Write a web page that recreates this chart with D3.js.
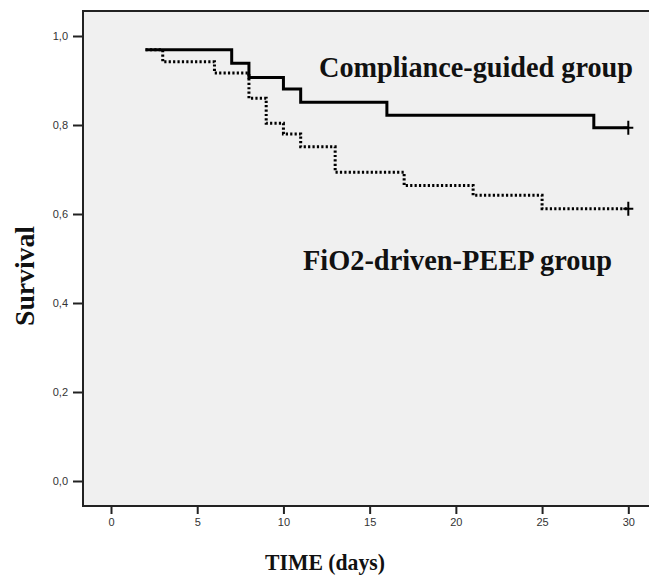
<!DOCTYPE html>
<html>
<head>
<meta charset="utf-8">
<script src="https://cdn.jsdelivr.net/npm/d3@7"></script>
<style>
	body { margin: 0; background: #ffffff; }
	.tick text { font-family: "Liberation Sans", Arial, sans-serif; font-size: 11px; fill: #333333; }
	.lbl { font-family: "Liberation Serif", "Times New Roman", serif; font-weight: bold; fill: #111111; }
</style>
</head>
<body>
<div id="chart"></div>
<script>
/* **************************************************************************
 * Kaplan-Meier survival plot, two ventilation groups.
 * **************************************************************************/

// survival steps (day, survival)
var complianceDays = [2, 7, 8, 10, 11, 16, 28, 30];
var complianceSurv = [0.969, 0.939, 0.907, 0.881, 0.851, 0.822, 0.794, 0.794];

var fioDays = [2, 3, 6, 8, 9, 10, 11, 13, 17, 21, 25, 30];
var fioSurv = [0.969, 0.942, 0.917, 0.860, 0.804, 0.780, 0.751, 0.694, 0.664, 0.642, 0.612, 0.612];

var xTicks = [0, 5, 10, 15, 20, 25, 30];
var yTicks = [0, 0.2, 0.4, 0.6, 0.8, 1.0];

var groupNames = ["Compliance-guided group", "FiO2-driven-PEEP group"];
var xTitle = "TIME (days)";
var yTitle = "Survival";

var width = 649, height = 582;

// plot frame, the right side runs off the picture as in the original
var frame = { left: 83, top: 11, right: 655, bottom: 506 };

var svg = d3.select("#chart").append("svg")
	.attr("width", width)
	.attr("height", height);

var x = d3.scaleLinear().domain([0, 30]).range([111, 628.3]);
var y = d3.scaleLinear().domain([0, 1]).range([481, 36]);

// grey plot area
svg.append("rect")
	.attr("x", frame.left)
	.attr("y", frame.top)
	.attr("width", frame.right - frame.left)
	.attr("height", frame.bottom - frame.top)
	.attr("fill", "#f0f0f0")
	.attr("stroke", "#222222")
	.attr("stroke-width", 2);

// axes
var fmt = function (d) { return d3.format(".1f")(d).replace(".", ","); };

var yAxis = svg.append("g")
	.attr("transform", "translate(" + frame.left + ",0)")
	.call(d3.axisLeft(y).tickValues(yTicks).tickFormat(fmt).tickSize(10).tickPadding(5));

var xAxis = svg.append("g")
	.attr("transform", "translate(0," + frame.bottom + ")")
	.call(d3.axisBottom(x).tickValues(xTicks).tickSize(8).tickPadding(4));

[yAxis, xAxis].forEach(function (g) {
	g.select(".domain").remove();
	g.selectAll(".tick line").attr("stroke", "#222222").attr("stroke-width", 2);
});

/* **************************************************************************
 * drawCurve
 *
 * Draw one step curve with a censor "+" at its last point.
 ****************************************************************************/
function drawCurve(days, surv, dash)
{
	var pts = days.map(function (d, i) { return [d, surv[i]]; });

	var line = d3.line()
		.x(function (p) { return x(p[0]); })
		.y(function (p) { return y(p[1]); })
		.curve(d3.curveStepAfter);

	svg.append("path")
		.datum(pts)
		.attr("d", line)
		.attr("fill", "none")
		.attr("stroke", "#000000")
		.attr("stroke-width", 3)
		.attr("stroke-dasharray", dash);

	// censor mark
	var last = pts[pts.length - 1];
	var cx = x(last[0]), cy = y(last[1]);
	svg.append("path")
		.attr("d", "M" + (cx - 5) + "," + cy + "H" + (cx + 5) +
			"M" + cx + "," + (cy - 7) + "V" + (cy + 7))
		.attr("stroke", "#000000")
		.attr("stroke-width", 2);
}

drawCurve(fioDays, fioSurv, "2.2,2.2");
drawCurve(complianceDays, complianceSurv, null);

// group labels
svg.append("text")
	.attr("class", "lbl")
	.attr("x", 319).attr("y", 77)
	.attr("font-size", 29)
	.attr("textLength", 314)
	.attr("lengthAdjust", "spacingAndGlyphs")
	.text(groupNames[0]);

svg.append("text")
	.attr("class", "lbl")
	.attr("x", 303).attr("y", 270)
	.attr("font-size", 29)
	.attr("textLength", 309)
	.attr("lengthAdjust", "spacingAndGlyphs")
	.text(groupNames[1]);

// axis titles
svg.append("text")
	.attr("class", "lbl")
	.attr("x", 325).attr("y", 570)
	.attr("text-anchor", "middle")
	.attr("font-size", 24)
	.attr("textLength", 120)
	.attr("lengthAdjust", "spacingAndGlyphs")
	.text(xTitle);

svg.append("text")
	.attr("class", "lbl")
	.attr("transform", "translate(34,276) rotate(-90)")
	.attr("text-anchor", "middle")
	.attr("font-size", 27)
	.attr("textLength", 100)
	.attr("lengthAdjust", "spacingAndGlyphs")
	.text(yTitle);
</script>
</body>
</html>
